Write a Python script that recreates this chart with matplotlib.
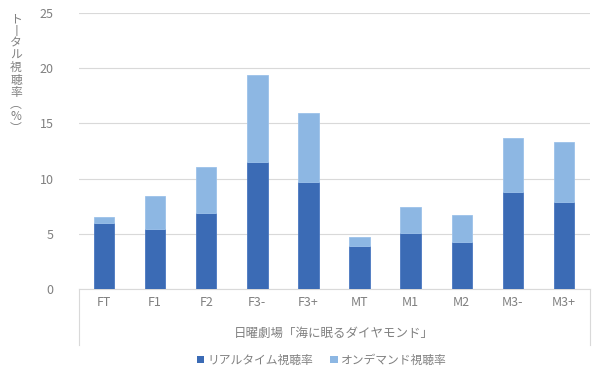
import matplotlib
matplotlib.use("Agg")
import matplotlib.pyplot as plt
from matplotlib.patches import Patch
import numpy as np

plt.rcParams['font.family'] = ['Noto Sans CJK JP', 'DejaVu Sans']

categories = ['FT', 'F1', 'F2', 'F3-', 'F3+', 'MT', 'M1', 'M2', 'M3-', 'M3+']
realtime = [6.0, 5.4, 6.9, 11.5, 9.7, 3.9, 5.1, 4.3, 8.8, 7.85]
total = [6.5, 8.4, 11.05, 19.4, 15.9, 4.7, 7.45, 6.7, 13.65, 13.3]
ondemand = [t - r for t, r in zip(total, realtime)]
group_label = '日曜劇場「海に眠るダイヤモンド」'
series_names = ['リアルタイム視聴率', 'オンデマンド視聴率']
ylabel_chars = ['ト', '丨', 'タ', 'ル', '視', '聴', '率', '︵', '%', '︶']

dark = '#3b6bb5'
light = '#8db7e3'
grey = '#808080'
gridc = '#d9d9d9'

fig = plt.figure(figsize=(6, 3.78), dpi=100)
ax = fig.add_axes([78.5 / 600, 1 - 289 / 378, 511 / 600, 276 / 378])

x = np.arange(len(categories))
ax.bar(x, realtime, width=0.4, color=dark, edgecolor='#4a78c0', linewidth=0.6, zorder=3)
ax.bar(x, ondemand, width=0.4, bottom=realtime, color=light, edgecolor='#9cc2ea', linewidth=0.6, zorder=3)

ax.set_xlim(-0.5, len(categories) - 0.5)
ax.set_ylim(0, 25)
ax.set_yticks([0, 5, 10, 15, 20, 25])
ax.grid(axis='y', color=gridc, linewidth=0.8, zorder=0)
ax.set_axisbelow(True)
for s in ['top', 'right', 'left']:
    ax.spines[s].set_visible(False)
ax.spines['bottom'].set_color(gridc)
ax.spines['bottom'].set_linewidth(0.8)
ax.tick_params(axis='y', length=0, pad=18, labelsize=9, labelcolor=grey)
ax.tick_params(axis='x', length=0, pad=5, labelsize=9, labelcolor=grey)
ax.set_xticks(x)
ax.set_xticklabels(categories)

# category box lines
box_h = 56 / 276
for xa in (0, 1):
    ax.plot([xa, xa], [0, -box_h], transform=ax.transAxes, color=gridc,
            linewidth=0.8, clip_on=False)
ax.text(0.5, -44 / 276, group_label, transform=ax.transAxes, ha='center',
        va='center', fontsize=9, color=grey)

# vertical (tategaki) axis title, one character per row
for i, ch in enumerate(ylabel_chars):
    fig.text(16 / 600, 1 - (19 + 12.2 * i) / 378, ch, ha='center', va='center',
             fontsize=8.5, color=grey)

handles = [Patch(facecolor=dark), Patch(facecolor=light)]
fig.legend(handles, series_names, loc='center', bbox_to_anchor=(0.536, 1 - 360 / 378),
           ncol=2, frameon=False, fontsize=8.5, handlelength=0.6, handleheight=0.6,
           handletextpad=0.25, columnspacing=1.5, labelcolor=grey)

fig.savefig('out.png', dpi=100)
